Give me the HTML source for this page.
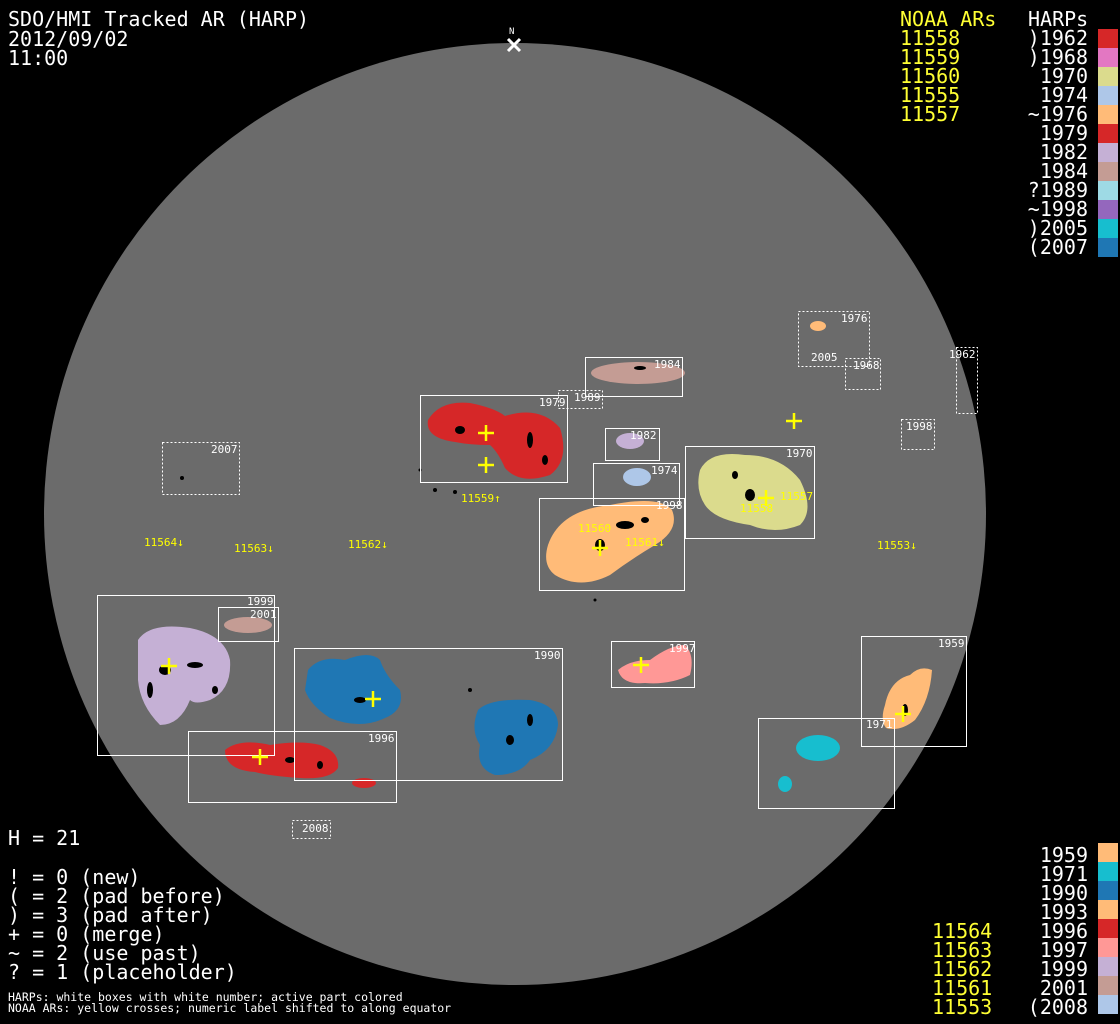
<!DOCTYPE html>
<html><head><meta charset="utf-8"><style>
html,body{margin:0;padding:0;background:#000;}
svg{display:block}
text{font-family:"DejaVu Sans Mono","Liberation Mono",monospace;}
</style></head><body>
<svg width="1120" height="1024" viewBox="0 0 1120 1024" xmlns="http://www.w3.org/2000/svg">
<rect width="1120" height="1024" fill="#000"/>
<circle cx="515" cy="514" r="471" fill="#6b6b6b"/>
<text x="509" y="34" fill="#fff" font-size="9">N</text>
<path d="M508 39 L520 51 M520 39 L508 51" stroke="#fff" stroke-width="3"/>
<g fill="#fff" font-size="20">
<text x="8" y="26">SDO/HMI Tracked AR (HARP)</text>
<text x="8" y="46">2012/09/02</text>
<text x="8" y="65">11:00</text>
</g>
<g font-size="20">
<text x="900" y="26" fill="#ffff33">NOAA ARs</text>
<text x="1028" y="26" fill="#fff">HARPs</text>
<g fill="#ffff33">
<text x="900" y="45">11558</text><text x="900" y="64">11559</text><text x="900" y="83">11560</text><text x="900" y="102">11555</text><text x="900" y="121">11557</text>
</g>
<g fill="#fff" text-anchor="end">
<text x="1088" y="45">)1962</text><text x="1088" y="64">)1968</text><text x="1088" y="83">1970</text><text x="1088" y="102">1974</text><text x="1088" y="121">~1976</text><text x="1088" y="140">1979</text><text x="1088" y="159">1982</text><text x="1088" y="178">1984</text><text x="1088" y="197">?1989</text><text x="1088" y="216">~1998</text><text x="1088" y="235">)2005</text><text x="1088" y="254">(2007</text>
</g>
</g>
<g>
<rect x="1098" y="29" width="20" height="19" fill="#d62728"/>
<rect x="1098" y="48" width="20" height="19" fill="#e377c2"/>
<rect x="1098" y="67" width="20" height="19" fill="#dbdb8d"/>
<rect x="1098" y="86" width="20" height="19" fill="#aec7e8"/>
<rect x="1098" y="105" width="20" height="19" fill="#ffbb78"/>
<rect x="1098" y="124" width="20" height="19" fill="#d62728"/>
<rect x="1098" y="143" width="20" height="19" fill="#c5b0d5"/>
<rect x="1098" y="162" width="20" height="19" fill="#c49c94"/>
<rect x="1098" y="181" width="20" height="19" fill="#9edae5"/>
<rect x="1098" y="200" width="20" height="19" fill="#9467bd"/>
<rect x="1098" y="219" width="20" height="19" fill="#17becf"/>
<rect x="1098" y="238" width="20" height="19" fill="#1f77b4"/>
</g>
<g font-size="20">
<g fill="#fff" text-anchor="end">
<text x="1088" y="862">1959</text><text x="1088" y="881">1971</text><text x="1088" y="900">1990</text><text x="1088" y="919">1993</text><text x="1088" y="938">1996</text><text x="1088" y="957">1997</text><text x="1088" y="976">1999</text><text x="1088" y="995">2001</text><text x="1088" y="1014">(2008</text>
</g>
<g fill="#ffff33">
<text x="932" y="938">11564</text><text x="932" y="957">11563</text><text x="932" y="976">11562</text><text x="932" y="995">11561</text><text x="932" y="1014">11553</text>
</g>
</g>
<rect x="1098" y="843" width="20" height="19" fill="#ffbb78"/>
<rect x="1098" y="862" width="20" height="19" fill="#17becf"/>
<rect x="1098" y="881" width="20" height="19" fill="#1f77b4"/>
<rect x="1098" y="900" width="20" height="19" fill="#ffbb78"/>
<rect x="1098" y="919" width="20" height="19" fill="#d62728"/>
<rect x="1098" y="938" width="20" height="19" fill="#ff9896"/>
<rect x="1098" y="957" width="20" height="19" fill="#c5b0d5"/>
<rect x="1098" y="976" width="20" height="19" fill="#c49c94"/>
<rect x="1098" y="995" width="20" height="19" fill="#aec7e8"/>
<g fill="#fff" font-size="20">
<text x="8" y="845">H = 21</text>
<text x="8" y="884">! = 0 (new)</text>
<text x="8" y="903">( = 2 (pad before)</text>
<text x="8" y="922">) = 3 (pad after)</text>
<text x="8" y="941">+ = 0 (merge)</text>
<text x="8" y="960">~ = 2 (use past)</text>
<text x="8" y="979">? = 1 (placeholder)</text>
</g>
<g fill="#fff" font-size="11.5">
<text x="8" y="1001">HARPs: white boxes with white number; active part colored</text>
<text x="8" y="1012">NOAA ARs: yellow crosses; numeric label shifted to along equator</text>
</g>
<g>
<path d="M428 420 Q440 400 470 403 Q495 408 505 416 Q540 405 560 428 Q570 460 550 475 Q520 485 505 468 Q498 452 490 445 Q470 445 455 442 Q425 438 428 420Z" fill="#d62728"/>
<ellipse cx="638" cy="373" rx="47" ry="11" fill="#c49c94"/>
<ellipse cx="818" cy="326" rx="8" ry="5" fill="#ffbb78"/>
<ellipse cx="630" cy="441" rx="14" ry="8" fill="#c5b0d5"/>
<ellipse cx="637" cy="477" rx="14" ry="9" fill="#aec7e8"/>
<path d="M700 470 Q710 450 745 455 Q780 455 800 480 Q815 510 800 525 Q775 535 750 525 Q715 520 705 505 Q695 490 700 470Z" fill="#dbdb8d"/>
<path d="M548 545 Q560 510 610 505 Q660 495 672 510 Q680 530 655 545 Q630 560 610 575 Q580 590 555 575 Q542 565 548 545Z" fill="#ffbb78"/>
<path d="M138 640 Q150 622 190 628 Q225 635 230 660 Q232 690 210 700 Q195 705 190 700 Q180 725 160 725 Q140 705 138 680Z" fill="#c5b0d5"/>
<ellipse cx="248" cy="625" rx="24" ry="8" fill="#c49c94"/>
<path d="M308 670 Q320 655 345 660 Q370 650 380 660 Q385 675 400 690 Q405 710 385 718 Q360 730 330 718 Q310 705 305 690Z" fill="#1f77b4"/>
<path d="M478 710 Q490 698 530 700 Q558 705 558 725 Q555 750 530 760 Q520 775 495 775 Q475 768 480 745 Q470 730 478 710Z" fill="#1f77b4"/>
<path d="M225 750 Q240 738 270 745 Q300 740 320 745 Q340 752 338 768 Q330 780 300 778 Q270 776 255 772 Q225 770 225 750Z" fill="#d62728"/>
<ellipse cx="364" cy="783" rx="12" ry="5" fill="#d62728"/>
<path d="M618 670 Q630 660 650 660 Q670 645 685 645 Q695 655 690 675 Q670 685 645 683 Q622 685 618 670Z" fill="#ff9896"/>
<path d="M885 705 Q890 680 910 675 Q920 665 932 670 Q930 700 915 720 Q900 732 886 728 Q880 720 885 705Z" fill="#ffbb78"/>
<ellipse cx="818" cy="748" rx="22" ry="13" fill="#17becf"/>
<ellipse cx="785" cy="784" rx="7" ry="8" fill="#17becf"/>
</g>
<g fill="#000">
<ellipse cx="460" cy="430" rx="5" ry="4"/><ellipse cx="530" cy="440" rx="3" ry="8"/><ellipse cx="545" cy="460" rx="3" ry="5"/>
<ellipse cx="625" cy="525" rx="9" ry="4"/><ellipse cx="600" cy="545" rx="5" ry="6"/><ellipse cx="645" cy="520" rx="4" ry="3"/>
<ellipse cx="165" cy="670" rx="6" ry="5"/><ellipse cx="195" cy="665" rx="8" ry="3"/><ellipse cx="150" cy="690" rx="3" ry="8"/><ellipse cx="215" cy="690" rx="3" ry="4"/>
<ellipse cx="360" cy="700" rx="6" ry="3"/><ellipse cx="510" cy="740" rx="4" ry="5"/><ellipse cx="530" cy="720" rx="3" ry="6"/>
<ellipse cx="290" cy="760" rx="5" ry="3"/><ellipse cx="320" cy="765" rx="3" ry="4"/><ellipse cx="750" cy="495" rx="5" ry="6"/><ellipse cx="735" cy="475" rx="3" ry="4"/>
<ellipse cx="905" cy="710" rx="3" ry="6"/><ellipse cx="640" cy="368" rx="6" ry="2"/><ellipse cx="455" cy="492" rx="2" ry="2"/><ellipse cx="435" cy="490" rx="2" ry="2"/>
<ellipse cx="182" cy="478" rx="2" ry="2"/><ellipse cx="420" cy="470" rx="1.5" ry="1.5"/><ellipse cx="595" cy="600" rx="1.5" ry="1.5"/><ellipse cx="470" cy="690" rx="2" ry="2"/>
</g>
<g fill="none" stroke="#fff" stroke-width="1">
<rect x="420.5" y="395.5" width="147" height="87"/>
<rect x="585.5" y="357.5" width="97" height="39"/>
<rect x="605.5" y="428.5" width="54" height="32"/>
<rect x="593.5" y="463.5" width="86" height="42"/>
<rect x="685.5" y="446.5" width="129" height="92"/>
<rect x="539.5" y="498.5" width="145" height="92"/>
<rect x="97.5" y="595.5" width="177" height="160"/>
<rect x="218.5" y="607.5" width="60" height="34"/>
<rect x="294.5" y="648.5" width="268" height="132"/>
<rect x="188.5" y="731.5" width="208" height="71"/>
<rect x="611.5" y="641.5" width="83" height="46"/>
<rect x="861.5" y="636.5" width="105" height="110"/>
<rect x="758.5" y="718.5" width="136" height="90"/>
</g>
<g fill="none" stroke="#fff" stroke-width="1" stroke-dasharray="2,2">
<rect x="798.5" y="311.5" width="71" height="55"/>
<rect x="845.5" y="358.5" width="35" height="31"/>
<rect x="956.5" y="347.5" width="21" height="66"/>
<rect x="901.5" y="419.5" width="33" height="30"/>
<rect x="558.5" y="390.5" width="44" height="18"/>
<rect x="162.5" y="442.5" width="77" height="52"/>
<rect x="292.5" y="820.5" width="38" height="18"/>
</g>
<g fill="#fff" font-size="11">
<text x="539" y="406">1979</text><text x="654" y="368">1984</text><text x="574" y="401">1989</text>
<text x="630" y="439">1982</text><text x="651" y="474">1974</text><text x="786" y="457">1970</text>
<text x="656" y="509">1998</text><text x="841" y="322">1976</text><text x="811" y="361">2005</text>
<text x="853" y="369">1968</text><text x="949" y="358">1962</text><text x="906" y="430">1998</text>
<text x="211" y="453">2007</text><text x="247" y="605">1999</text><text x="250" y="618">2001</text>
<text x="534" y="659">1990</text><text x="368" y="742">1996</text><text x="669" y="652">1997</text>
<text x="938" y="647">1959</text><text x="866" y="728">1971</text><text x="302" y="832">2008</text>
</g>
<g stroke="#ffff00" stroke-width="2.5">
<path d="M486 425v16M478 433h16"/><path d="M486 457v16M478 465h16"/>
<path d="M794 413v16M786 421h16"/><path d="M766 490v16M758 498h16"/>
<path d="M600 540v16M592 548h16"/><path d="M169 658v16M161 666h16"/>
<path d="M373 691v16M365 699h16"/><path d="M260 749v16M252 757h16"/>
<path d="M641 657v16M633 665h16"/><path d="M903 706v16M895 714h16"/>
</g>
<g fill="#ffff00" font-size="11">
<text x="461" y="502">11559↑</text><text x="144" y="546">11564↓</text><text x="234" y="552">11563↓</text>
<text x="348" y="548">11562↓</text><text x="877" y="549">11553↓</text>
<text x="578" y="532">11560</text><text x="625" y="546">11561↓</text><text x="780" y="500">11557</text><text x="740" y="512">11558</text>
</g>
</svg>
</body></html>
